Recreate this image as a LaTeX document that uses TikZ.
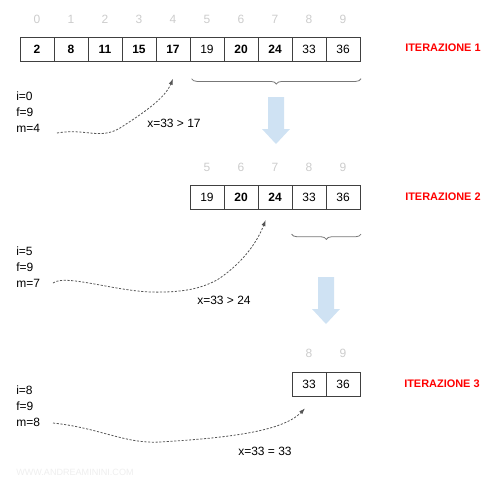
\documentclass[tikz,border=0pt]{standalone}
\usepackage{fontspec}
\setmainfont{Liberation Sans}
\usetikzlibrary{arrows.meta,calc,positioning,decorations.pathreplacing}
\definecolor{idxgray}{HTML}{CCCCCC}
\definecolor{cellline}{HTML}{404040}
\definecolor{pathgray}{HTML}{555555}
\definecolor{stepblue}{HTML}{CFE2F3}
\definecolor{markgray}{HTML}{EEEEEE}
\definecolor{itered}{HTML}{FF0000}
\tikzset{
  cell/.style={draw=cellline,line width=0.6pt,minimum width=25.5pt,minimum height=18pt,
    inner sep=0pt,font=\fontsize{9}{11}\selectfont},
  idx/.style={text=idxgray,inner sep=0pt,font=\fontsize{9}{11}\selectfont},
  vars/.style={anchor=north west,align=left,inner sep=0pt,font=\fontsize{9}{12}\selectfont},
  cmp/.style={anchor=west,inner sep=0pt,font=\fontsize{9}{11}\selectfont},
  iter/.style={anchor=west,inner sep=0pt,text=itered,font=\bfseries\fontsize{8.2}{10}\selectfont},
  brace/.style={draw=pathgray!80,line width=0.6pt,decorate,
    decoration={brace,mirror,amplitude=4pt}},
  search/.style={draw=pathgray,line width=0.6pt,dash pattern=on 1.6pt off 1.2pt,
    -{Latex[length=4.5pt,width=3.2pt]}}
}
\begin{document}
\begin{tikzpicture}[x=0.75pt,y=-0.75pt]
    \useasboundingbox (0,0) rectangle (500,487);
    \foreach \v [count=\i from 0] in {\textbf{2},\textbf{8},\textbf{11},\textbf{15},\textbf{17},19,\textbf{20},\textbf{24},33,36}
      \node[cell] (a\i) at ({37+34*\i},49) {\v};
    \foreach \i in {0,...,9}
      \node[idx] (n\i) at ({37+34*\i},19) {\i};
    \foreach \v [count=\i from 5] in {19,\textbf{20},\textbf{24},33,36}
      \node[cell] (b\i) at ({37+34*\i},197) {\v};
    \foreach \i in {5,...,9}
      \node[idx] (m\i) at ({37+34*\i},167) {\i};
    \foreach \v [count=\i from 8] in {33,36}
      \node[cell] (c\i) at ({37+34*\i},384) {\v};
    \foreach \i in {8,9}
      \node[idx] (k\i) at ({37+34*\i},353) {\i};

    \node[iter] (it1) at (405,48) {ITERAZIONE 1};
    \node[iter] (it2) at (405,197) {ITERAZIONE 2};
    \node[iter] (it3) at (404,384) {ITERAZIONE 3};

    \draw[brace] ([xshift=1.5pt,yshift=-13pt]a5.south west) -- ([xshift=0.5pt,yshift=-13pt]a9.south east);
    \draw[brace] ([yshift=-18.5pt]b8.south west) -- ([xshift=0.5pt,yshift=-18.5pt]b9.south east);

    \foreach \dx/\dy in {0/0,50/180}
      \fill[stepblue,shift={(\dx,\dy)}] (268,97) -- (284,97) -- (284,129) -- (290,129)
        -- (276,144) -- (262,129) -- (268,129) -- cycle;

    \node[vars] (v1) at (16,92) {i=0\\f=9\\m=4};
    \node[vars] (v2) at (16,247) {i=5\\f=9\\m=7};
    \node[vars] (v3) at (16,386) {i=8\\f=9\\m=8};

    \node[cmp] (x1) at (147,123) {x=33 > 17};
    \node[cmp] (x2) at (197,300) {x=33 > 24};
    \node[cmp] (x3) at (238,451) {x=33 = 33};

    \coordinate (s1) at (57,133);
    \coordinate (t1) at ([yshift=-13pt]a4.south);
    \coordinate (s2) at (53,283);
    \coordinate (t2) at ([xshift=-7pt,yshift=-8pt]b7.south);
    \coordinate (s3) at (53,423);
    \coordinate (t3) at ([xshift=-3pt,yshift=-9pt]c8.south);

    \draw[search] (s1) .. controls (85,128) and (100,140) .. (120,128)
      .. controls (145,112) and (165,98) .. (t1);
    \draw[search] (s2) .. controls (65,274) and (110,290) .. (150,292)
      .. controls (190,293) and (205,286) .. (217,280)
      .. controls (240,265) and (256,245) .. (t2);
    \draw[search] (s3) .. controls (100,428) and (125,444) .. (160,442)
      .. controls (225,438) and (282,432) .. (t3);

    \node[anchor=west,inner sep=0pt,text=markgray,font=\fontsize{6.8}{8}\selectfont] (wm) at (16,472) {WWW.ANDREAMININI.COM};
  \end{tikzpicture}
\end{document}
